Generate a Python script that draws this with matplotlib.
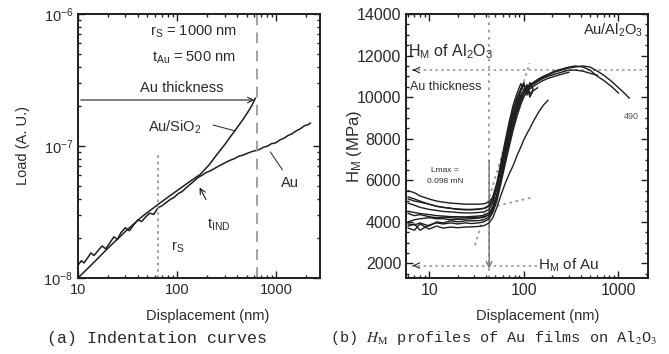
import matplotlib
matplotlib.use('Agg')
import matplotlib.pyplot as plt
import matplotlib.ticker as mticker

# Fonts
plt.rcParams['font.family'] = ['Liberation Sans', 'DejaVu Sans']
plt.rcParams['mathtext.fontset'] = 'custom'
plt.rcParams['mathtext.rm'] = 'Liberation Sans'
plt.rcParams['mathtext.it'] = 'Liberation Sans:italic'
plt.rcParams['mathtext.bf'] = 'Liberation Sans:bold'

# (a) Indentation curves: displacement (nm) vs load (A. U.)
au_disp = [10, 10.8, 11.5, 12.5, 13.5, 14.5, 16, 17.5, 19, 21, 23, 25, 27, 30, 33, 36,
           40, 44, 48, 53, 58, 64, 70, 77, 85, 93, 102, 112, 123, 135, 148, 162, 178,
           195, 215, 235, 260, 285, 315, 345, 380, 420, 460, 505, 555, 610, 670, 740,
           810, 890, 980, 1080, 1190, 1310, 1440, 1580, 1740, 1910, 2100, 2200]
au_load = [1.25, 1.35, 1.30, 1.42, 1.55, 1.48, 1.62, 1.75, 1.66, 1.85, 2.05, 1.96, 2.20,
           2.40, 2.28, 2.50, 2.75, 2.68, 2.90, 3.10, 3.03, 3.40, 3.52, 3.72, 3.93, 4.08,
           4.35, 4.52, 4.82, 5.12, 5.42, 5.78, 6.00, 6.28, 6.48, 6.72, 7.02, 7.28, 7.58,
           7.82, 8.04, 8.38, 8.52, 8.78, 9.02, 9.22, 9.38, 9.78, 9.96, 10.4, 10.55, 11.1,
           11.45, 12.0, 12.4, 13.0, 13.5, 14.2, 14.55, 14.9]
ausio2_disp = [10, 15, 20, 30, 45, 67, 100, 135, 171, 210, 242, 300, 385, 450, 509, 560, 614]
ausio2_load = [1.0, 1.35, 1.68, 2.25, 2.95, 3.7, 4.6, 5.4, 6.1, 7.2, 8.3, 10.2, 13.2,
               15.5, 17.8, 20.0, 23.0]
load_unit = 1e-8

# (b) H_M profiles (MPa) on a shared displacement grid; curves end at different depths
hm_disp = [6, 7, 8, 10, 12, 14, 17, 20, 24, 28, 33, 38, 43, 47, 52, 57, 63, 70, 77, 85,
           93, 100, 108, 116, 125, 140, 160, 180, 210, 250, 300, 350, 420, 500, 600, 700,
           850, 1000, 1150, 1300]
hm_a = [4500, 4450, 4400, 4350, 4300, 4280, 4250, 4250, 4240, 4260, 4280, 4320, 4450, 4700,
        5300, 6100, 7000, 7900, 8700, 9400, 9900, 10200, 10400, 10550, 10650, 10800, 10950,
        11050, 11200, 11300, 11400, 11450, 11500, 11450, 11250, 11050, 10750, 10450, 10200, 9950]
hm_b = [5200, 5100, 5000, 4850, 4750, 4700, 4650, 4600, 4580, 4580, 4600, 4650, 4800, 5100,
        5700, 6500, 7400, 8300, 9100, 9700, 10100, 10350, 10500, 10600, 10700, 10850, 11000,
        11100, 11250, 11350, 11450, 11500, 11450, 11300, 11000, 10800, 10500, 10200]
hm_c = [4000, 4100, 4150, 4200, 4150, 4150, 4100, 4120, 4130, 4150, 4180, 4220, 4350, 4600,
        5200, 6000, 6900, 7800, 8600, 9300, 9800, 10150, 10350, 10500, 10600, 10750, 10900,
        11000, 11100, 11200, 11300, 11300, 11250, 11150, 11050]
hm_d = [3800, 3900, 3600, 3850, 3950, 3900, 3950, 3900, 3950, 3920, 3950, 4000, 4150, 4450,
        5000, 5800, 6700, 7600, 8400, 9100, 9650, 10000, 10250, 10400, 10500, 10650, 10800,
        10900, 11000, 11100, 11200]
hm_e = [5500, 5400, 5250, 5100, 5000, 4950, 4900, 4880, 4850, 4850, 4850, 4870, 4950, 5200,
        5900, 6800, 7800, 8800, 9600, 10200, 10650, 10300, 10600, 10150, 10350]
hm_f = [4900, 4800, 4700, 4600, 4550, 4500, 4480, 4450, 4430, 4430, 4450, 4480, 4600, 4900,
        5600, 6500, 7500, 8500, 9300, 9900, 10400, 10700, 10100, 10500]
hm_g = [4400, 4300, 4350, 4250, 4200, 4220, 4200, 4180, 4200, 4200, 4220, 4250, 4350, 4650,
        5300, 6200, 7200, 8100, 8900, 9500, 10000, 10200, 10500, 10000, 10300, 10450]
hm_h = [3700, 3600, 3900, 3650, 3800, 3700, 3750, 3720, 3750, 3760, 3780, 3820, 3950, 4200,
        4700, 5250, 5800, 6300, 6700, 7200, 7600, 7950, 8250, 8500, 8800, 9200, 9600, 9850]
hm_i = [3900, 3850, 3950, 3800, 4000, 3950, 4050, 4000, 4050, 4050, 4060, 4100, 4250, 4550,
        5200, 6100, 7100, 8100, 9000, 9700, 10300, 10600, 10300]
hm_j = [5100, 5000, 4950, 4850, 4750, 4700, 4650, 4620, 4600, 4600, 4620, 4650, 4750, 5000,
        5700, 6600, 7600, 8600, 9400, 10000, 10400, 10600, 10300, 10700, 10400]
hm_curves = [hm_a, hm_b, hm_c, hm_d, hm_e, hm_f, hm_g, hm_h, hm_i, hm_j]

# Reference lines in (b)
hm_al2o3 = 11300
hm_au = 1900
lmax_disp = 43
steep_tangent_x = [30.5, 115]
steep_tangent_y = [2870, 11640]
flat_tangent_x = [45, 124]
flat_tangent_y = [4700, 5180]

ink = '#1e1e1e'
txt = '#2a2a2a'
gray = '#9a9a9a'

fig = plt.figure(figsize=(6.69, 3.54), dpi=100)
ax1 = fig.add_axes([0.1166, 0.2147, 0.3617, 0.7458])
ax2 = fig.add_axes([0.6069, 0.2147, 0.3617, 0.7458])

for ax in (ax1, ax2):
    ax.tick_params(which='both', direction='in', top=True, right=True, colors=ink,
                   labelcolor=txt, labelsize=10.5, width=1.0)
    ax.tick_params(which='major', length=5)
    ax.tick_params(which='minor', length=2.5)
    for sp in ax.spines.values():
        sp.set_linewidth(1.4)
        sp.set_color(ink)
ax2.tick_params(labelsize=11.5)

# ---------- (a) ----------
ax1.set_xscale('log')
ax1.set_yscale('log')
ax1.set_xlim(10, 2750)
ax1.set_ylim(1e-8, 1e-6)

ax1.plot(ausio2_disp, [v * load_unit for v in ausio2_load], color=ink, lw=1.1)
ax1.plot(au_disp, [v * load_unit for v in au_load], color=ink, lw=1.1)

ax1.plot([64, 64], [1e-8, 8.9e-8], color=gray, lw=1.3, ls=(0, (1.5, 2)))
ax1.plot([640, 640], [1e-8, 1e-6], color=gray, lw=1.3, ls=(0, (6, 4)))

ax1.annotate('', xy=(640, 2.23e-7), xytext=(10, 2.23e-7),
             arrowprops=dict(arrowstyle='->', color=ink, lw=0.8))
ax1.text(0.43, 0.72, 'Au thickness', transform=ax1.transAxes, ha='center', va='center',
         fontsize=10.5, color=txt)
ax1.text(0.475, 0.932, r'r$_\mathrm{S}$ = 1000 nm', transform=ax1.transAxes,
         ha='center', va='center', fontsize=10.5, color=txt)
ax1.text(0.479, 0.833, r't$_\mathrm{Au}$ = 500 nm', transform=ax1.transAxes,
         ha='center', va='center', fontsize=10.5, color=txt)
ax1.text(0.40, 0.572, r'Au/SiO$_2$', transform=ax1.transAxes, ha='center', va='center',
         fontsize=10.5, color=txt)
ax1.plot([231, 385], [1.44e-7, 1.30e-7], color=ink, lw=0.7)
ax1.text(0.876, 0.36, 'Au', transform=ax1.transAxes, ha='center', va='center',
         fontsize=10.5, color=txt)
ax1.plot([870, 1150], [9.0e-8, 6.6e-8], color=ink, lw=0.7)
ax1.annotate('', xy=(163, 5.07e-8), xytext=(201, 3.77e-8),
             arrowprops=dict(arrowstyle='->', color=ink, lw=0.8))
ax1.text(0.583, 0.20, r't$_\mathrm{IND}$', transform=ax1.transAxes, ha='center',
         va='center', fontsize=10.5, color=txt)
ax1.text(0.41, 0.117, r'r$_\mathrm{S}$', transform=ax1.transAxes, ha='center',
         va='center', fontsize=10.5, color=txt)

ax1.xaxis.set_major_formatter(mticker.FuncFormatter(lambda v, p: '%d' % v))
ax1.set_xlabel('Displacement (nm)', fontsize=10.5, color=txt)
ax1.set_ylabel('Load (A. U.)', fontsize=10.5, color=txt)
ax1.xaxis.set_label_coords(0.537, -0.118)
ax1.yaxis.set_label_coords(-0.2, 0.5)

# ---------- (b) ----------
ax2.set_xscale('log')
ax2.set_xlim(5.7, 2050)
ax2.set_ylim(1300, 14000)
ax2.yaxis.set_major_locator(mticker.MultipleLocator(2000))
ax2.yaxis.set_minor_locator(mticker.MultipleLocator(500))
ax2.xaxis.set_major_formatter(mticker.FuncFormatter(lambda v, p: '%d' % v))

ax2.axvline(lmax_disp, color=gray, lw=1.3, ls=(0, (1.5, 2.5)), zorder=1)
ax2.plot(steep_tangent_x, steep_tangent_y, color=gray, lw=1.3, ls=(0, (1.5, 2)), zorder=1)
ax2.plot(flat_tangent_x, flat_tangent_y, color=gray, lw=1.3, ls=(0, (1.5, 2)), zorder=1)
ax2.plot([6.6, 1950], [hm_al2o3, hm_al2o3], color=gray, lw=1.2, ls=(0, (1.5, 2)), zorder=1)
ax2.plot([6.6, 137], [hm_au, hm_au], color=gray, lw=1.2, ls=(0, (1.5, 2)), zorder=1)
ax2.annotate('', xy=(6.3, hm_al2o3), xytext=(7.4, hm_al2o3),
             arrowprops=dict(arrowstyle='->', color=ink, lw=0.8))
ax2.annotate('', xy=(6.3, hm_au), xytext=(7.4, hm_au),
             arrowprops=dict(arrowstyle='->', color=ink, lw=0.8))
ax2.annotate('', xy=(lmax_disp, 1620), xytext=(lmax_disp, 7100),
             arrowprops=dict(arrowstyle='->', color='#777777', lw=1.0))

for hm in hm_curves:
    ax2.plot(hm_disp[:len(hm)], hm, color=ink, lw=1.0, zorder=3)

ax2.text(0.979, 0.939, r'Au/Al$_2$O$_3$', transform=ax2.transAxes, ha='right',
         va='center', fontsize=10.5, color=txt)
ax2.text(0.008, 0.856, r'H$_\mathrm{M}$ of Al$_2$O$_3$', transform=ax2.transAxes,
         ha='left', va='center', fontsize=11.5, color=txt)
ax2.text(0.016, 0.723, 'Au thickness', transform=ax2.transAxes, ha='left', va='center',
         fontsize=9, color=txt)
ax2.text(0.161, 0.409, 'Lmax =', transform=ax2.transAxes, ha='center', va='center',
         fontsize=6, color=txt)
ax2.text(0.161, 0.364, '0.098 mN', transform=ax2.transAxes, ha='center', va='center',
         fontsize=6, color=txt)
ax2.text(0.93, 0.61, '490', transform=ax2.transAxes, ha='center', va='center',
         fontsize=6.5, color='#555555')
ax2.text(0.545, 0.049, r'H$_\mathrm{M}$ of Au', transform=ax2.transAxes, ha='left',
         va='center', fontsize=11, color=txt)

ax2.set_xlabel('Displacement (nm)', fontsize=10.5, color=txt)
ax2.set_ylabel(r'H$_\mathrm{M}$ (MPa)', fontsize=12, color=txt)
ax2.xaxis.set_label_coords(0.545, -0.118)
ax2.yaxis.set_label_coords(-0.175, 0.5)

# Captions
fig.text(0.235, 0.045, '(a) Indentation curves', ha='center', va='center',
         fontsize=12, family='Liberation Mono', color=txt)
fig.text(0.493, 0.045, r'(b) $\mathit{H}_\mathrm{M}$ profiles of Au films on Al$_2$O$_3$',
         ha='left', va='center', fontsize=11, family='Liberation Mono', color=txt,
         math_fontfamily='stix')

fig.savefig('out.png', dpi=100)
